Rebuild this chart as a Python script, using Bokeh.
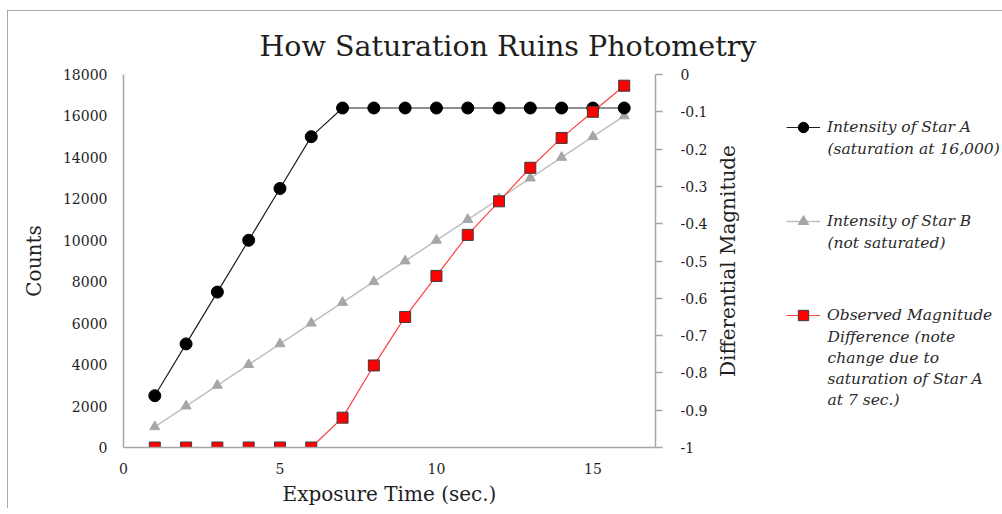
import math
from bokeh.plotting import figure
from bokeh.layouts import row
from bokeh.models import Range1d, LinearAxis, FixedTicker, Legend, LegendItem
from bokeh.core.properties import value
from bokeh.embed import file_html
from bokeh.resources import INLINE

# ---- data ----
exposure = [1, 2, 3, 4, 5, 6, 7, 8, 9, 10, 11, 12, 13, 14, 15, 16]
star_a = [2500, 5000, 7500, 10000, 12500, 15000, 16383, 16383, 16383, 16383,
          16383, 16383, 16383, 16383, 16383, 16383]
star_b = [1000, 2000, 3000, 4000, 5000, 6000, 7000, 8000, 9000, 10000,
          11000, 12000, 13000, 14000, 15000, 16000]
mag_diff = [-1.0, -1.0, -1.0, -1.0, -1.0, -1.0, -0.92, -0.78, -0.65, -0.54,
            -0.43, -0.34, -0.25, -0.17, -0.10, -0.03]

x_ticks = [0, 5, 10, 15]
count_ticks = [0, 2000, 4000, 6000, 8000, 10000, 12000, 14000, 16000, 18000]
mag_ticks = [-1.0, -0.9, -0.8, -0.7, -0.6, -0.5, -0.4, -0.3, -0.2, -0.1, 0.0]
mag_tick_labels = ["-1", "-0.9", "-0.8", "-0.7", "-0.6", "-0.5", "-0.4", "-0.3", "-0.2", "-0.1", "0"]

title_text = "How Saturation Ruins Photometry"
x_title = "Exposure Time (sec.)"
y_title = "Counts"
y2_title = "Differential Magnitude"
legend_lines = [
    ["Intensity of Star A", "(saturation at 16,000)"],
    ["Intensity of Star B", "(not saturated)"],
    ["Observed Magnitude", "Difference (note", "change due to", "saturation of Star A", "at 7 sec.)"],
]

SERIF = "DejaVu Serif"
AX_GRAY = "#a6a6a6"
TXT = "#1e1e1e"
LEG_TXT = "#2a2a2a"
LEG_SIZE = "15.5px"

style_a_line = dict(line_color="#202020", line_width=1.2)
style_a_mark = dict(marker="circle", size=12, fill_color="black", line_color="black")
style_b_line = dict(line_color="#bfbfbf", line_width=1.5)
style_b_mark = dict(marker="triangle", size=10, fill_color="#a6a6a6", line_color="#a6a6a6")
style_r_line = dict(line_color="#ff4040", line_width=1.2)
style_r_mark = dict(marker="square", size=11, fill_color="#ff0000", line_color="#3c3c3c", line_width=1)

# page geometry (row placed at x=7,y=10 with a 1px border -> content starts at 8,11)
OX, OY = 8, 11
FW, FH = 532, 373
BL, BT, BR, BB = 115, 63, 60, 60
W1 = BL + FW + BR
WQ = 1002 - OX
FRAME_TOP = OY + BT
FRAME_BOT = FRAME_TOP + FH

# ---------------- main chart ----------------
p = figure(frame_width=FW, frame_height=FH,
           x_range=Range1d(0, 17), y_range=Range1d(0, 18000),
           output_backend="svg", toolbar_location=None,
           min_border_left=BL, min_border_top=BT, min_border_right=BR, min_border_bottom=BB,
           outline_line_color=None, background_fill_color="white", border_fill_color="white")
p.grid.visible = False
p.extra_y_ranges = {"mag": Range1d(-1, 0)}

def style_axis(ax, tick_out=0):
    ax.axis_line_color = AX_GRAY
    ax.axis_line_width = 1.5
    ax.major_tick_line_color = AX_GRAY
    ax.major_tick_line_width = 1.5
    ax.major_tick_out = tick_out
    ax.major_tick_in = 0
    ax.minor_tick_line_color = None
    ax.major_label_text_font = SERIF
    ax.major_label_text_font_size = "14px"
    ax.major_label_text_color = TXT
    ax.axis_label_text_font = SERIF
    ax.axis_label_text_font_size = "20px"
    ax.axis_label_text_font_style = "normal"
    ax.axis_label_text_color = TXT

xa = p.xaxis[0]
style_axis(xa)
xa.ticker = FixedTicker(ticks=x_ticks)
xa.axis_label = x_title
xa.major_label_standoff = 15
xa.axis_label_standoff = 5

ya = p.yaxis[0]
style_axis(ya)
ya.ticker = FixedTicker(ticks=count_ticks)
ya.axis_label = y_title
ya.major_label_standoff = 16
ya.axis_label_standoff = 14

ra = LinearAxis(y_range_name="mag")
style_axis(ra, tick_out=7)
ra.ticker = FixedTicker(ticks=mag_ticks)
ra.major_label_overrides = {t: s for t, s in zip(mag_ticks, mag_tick_labels)}
ra.major_label_standoff = 18
p.add_layout(ra, "right")

p.line(exposure, star_b, **style_b_line)
p.scatter(exposure, star_b, **style_b_mark)
p.line(exposure, star_a, **style_a_line)
p.scatter(exposure, star_a, **style_a_mark)
p.line(exposure, mag_diff, y_range_name="mag", **style_r_line)
p.scatter(exposure, mag_diff, y_range_name="mag", **style_r_mark)

# ------- transparent overlay (page-pixel coordinates): title, right-axis title, legend -------
q = figure(frame_width=WQ, frame_height=FH,
           min_border_left=0, min_border_right=0, min_border_top=BT, min_border_bottom=BB,
           x_range=Range1d(OX, OX + WQ), y_range=Range1d(FRAME_BOT, FRAME_TOP),
           x_axis_type=None, y_axis_type=None,
           output_backend="svg", toolbar_location=None,
           outline_line_color=None, background_fill_alpha=0, border_fill_alpha=0)
q.grid.visible = False
q.styles = {"margin-left": f"-{W1}px"}

q.title.text = title_text
q.title.text_font = SERIF
q.title.text_font_size = "28.5px"
q.title.text_font_style = "normal"
q.title.text_color = TXT
q.title.align = "left"
q.title.offset = 251
q.title.standoff = 24

# right axis title (reads bottom-to-top, centred on the plot frame)
q.text(x=[727], y=[(FRAME_TOP + FRAME_BOT) / 2], text=[y2_title], angle=math.pi / 2,
       text_font=value(SERIF), text_font_size="20px", text_color=TXT,
       text_align="center", text_baseline="middle")

# legend sample renderers (hidden copies of the series)
qa_l = q.line(exposure, star_a, visible=False, **style_a_line)
qa_m = q.scatter(exposure, star_a, visible=False, **style_a_mark)
qb_l = q.line(exposure, star_b, visible=False, **style_b_line)
qb_m = q.scatter(exposure, star_b, visible=False, **style_b_mark)
qr_l = q.line(exposure, mag_diff, visible=False, **style_r_line)
qr_m = q.scatter(exposure, mag_diff, visible=False, **style_r_mark)

item_h = 26
pitch = 94
first_center = 127
legend = Legend(items=[
    LegendItem(label=legend_lines[0][0], renderers=[qa_l, qa_m]),
    LegendItem(label=legend_lines[1][0], renderers=[qb_l, qb_m]),
    LegendItem(label=legend_lines[2][0], renderers=[qr_l, qr_m]),
])
legend.glyph_width = 34
legend.glyph_height = item_h
legend.label_height = item_h
legend.label_standoff = 7
legend.spacing = pitch - item_h
legend.padding = 0
legend.margin = 0
legend.border_line_color = None
legend.background_fill_alpha = 0
legend.inactive_fill_alpha = 0
legend.label_text_font = SERIF
legend.label_text_font_style = "italic"
legend.label_text_font_size = LEG_SIZE
legend.label_text_color = LEG_TXT
leg_top = first_center - item_h / 2
leg_h = 3 * item_h + 2 * (pitch - item_h)
legend.location = (786 - OX, FRAME_BOT - (leg_top + leg_h))
q.add_layout(legend)

# continuation lines of the legend labels
line_pitch = 21
cont_x, cont_y, cont_t = [], [], []
for i, lines in enumerate(legend_lines):
    for k, t in enumerate(lines[1:], start=1):
        cont_x.append(827)
        cont_y.append(first_center + i * pitch + k * line_pitch)
        cont_t.append(t)
q.text(x=cont_x, y=cont_y, text=cont_t, text_font=value(SERIF), text_font_style="italic",
       text_font_size=LEG_SIZE, text_color=LEG_TXT, text_align="left", text_baseline="middle")

layout = row(p, q)
layout.styles = {"border-left": "1px solid #a8a8a8", "border-top": "1px solid #a8a8a8",
                 "margin-left": "7px", "margin-top": "10px"}

open("out.html", "w").write(file_html(layout, INLINE))
